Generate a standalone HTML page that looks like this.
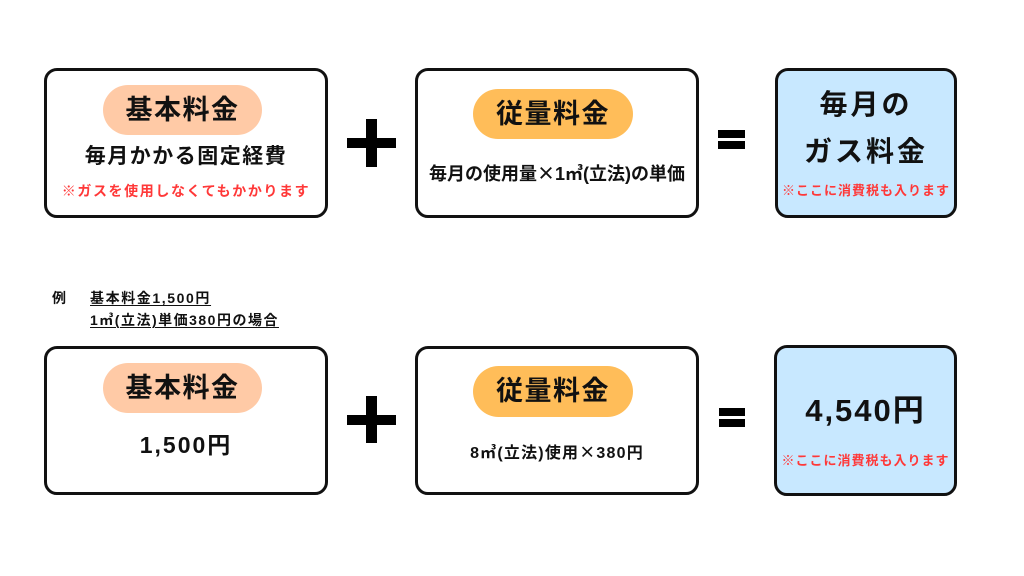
<!DOCTYPE html>
<html>
<head>
<meta charset="utf-8">
<style>
  html,body{margin:0;padding:0;}
  body{width:1024px;height:576px;background:#fff;position:relative;overflow:hidden;
    font-family:"Liberation Sans","Noto Sans CJK JP",sans-serif;font-weight:bold;color:#111;}
  .box{position:absolute;box-sizing:border-box;border:3px solid #111;border-radius:13px;background:#fff;}
  .blue{background:#C8E8FF;}
  .pill{position:absolute;border-radius:26px;text-align:center;color:#111;}
  .peach{background:#FFCAA6;}
  .orange{background:#FFBD59;}
  .t{position:absolute;text-align:center;white-space:nowrap;}
  .red{color:#FF3838;}
  .bar{position:absolute;background:#000;}
  .x{font-family:"Noto Sans CJK JP",sans-serif;}
</style>
</head>
<body>

<!-- Row 1 -->
<div class="box" style="left:44px;top:68px;width:284px;height:150px;"></div>
<div class="pill peach" style="left:103px;top:85px;width:159px;height:50px;line-height:50px;font-size:27px;letter-spacing:1.5px;">基本料金</div>
<div class="t" style="left:44px;width:284px;top:142px;height:30px;line-height:30px;font-size:21px;letter-spacing:1.5px;">毎月かかる固定経費</div>
<div class="t red" style="left:44px;width:284px;top:181px;height:20px;line-height:20px;font-size:14px;letter-spacing:1.6px;">※ガスを使用しなくてもかかります</div>

<div class="bar" style="left:347px;top:138px;width:49px;height:10px;"></div>
<div class="bar" style="left:366px;top:119px;width:11px;height:48px;"></div>

<div class="box" style="left:415px;top:68px;width:284px;height:150px;"></div>
<div class="pill orange" style="left:473px;top:89px;width:160px;height:50px;line-height:50px;font-size:27px;letter-spacing:1.5px;">従量料金</div>
<div class="t" style="left:415px;width:284px;top:160px;height:26px;line-height:26px;font-size:18px;letter-spacing:0px;">毎月の使用量<span class="x">×</span>1㎥(立法)の単価</div>

<div class="bar" style="left:718px;top:130px;width:27px;height:8px;"></div>
<div class="bar" style="left:718px;top:141px;width:27px;height:8px;"></div>

<div class="box blue" style="left:775px;top:68px;width:182px;height:150px;"></div>
<div class="t" style="left:775px;width:182px;top:87px;height:36px;line-height:36px;font-size:28px;letter-spacing:3px;">毎月の</div>
<div class="t" style="left:775px;width:182px;top:134px;height:36px;line-height:36px;font-size:28px;letter-spacing:3px;">ガス料金</div>
<div class="t red" style="left:775px;width:182px;top:181px;height:20px;line-height:20px;font-size:13px;letter-spacing:1px;">※ここに消費税も入ります</div>

<!-- Example label -->
<div class="t" style="left:52px;top:288px;height:20px;line-height:20px;font-size:14px;text-align:left;">例</div>
<div class="t" style="left:90px;top:288px;height:20px;line-height:20px;font-size:14px;letter-spacing:1.6px;text-align:left;text-decoration:underline;text-decoration-thickness:1px;text-underline-offset:2px;">基本料金1,500円</div>
<div class="t" style="left:90px;top:310px;height:20px;line-height:20px;font-size:14px;letter-spacing:1.5px;text-align:left;text-decoration:underline;text-decoration-thickness:1px;text-underline-offset:2px;">1㎥(立法)単価380円の場合</div>

<!-- Row 2 -->
<div class="box" style="left:44px;top:346px;width:284px;height:149px;"></div>
<div class="pill peach" style="left:103px;top:363px;width:159px;height:50px;line-height:50px;font-size:27px;letter-spacing:1.5px;">基本料金</div>
<div class="t" style="left:44px;width:284px;top:429px;height:32px;line-height:32px;font-size:23px;letter-spacing:2px;">1,500円</div>

<div class="bar" style="left:347px;top:415px;width:49px;height:10px;"></div>
<div class="bar" style="left:366px;top:396px;width:11px;height:47px;"></div>

<div class="box" style="left:415px;top:346px;width:284px;height:149px;"></div>
<div class="pill orange" style="left:473px;top:366px;width:160px;height:51px;line-height:51px;font-size:27px;letter-spacing:1.5px;">従量料金</div>
<div class="t" style="left:415px;width:284px;top:439px;height:24px;line-height:24px;font-size:16px;letter-spacing:1.2px;">8㎥(立法)使用<span class="x">×</span>380円</div>

<div class="bar" style="left:719px;top:408px;width:26px;height:8px;"></div>
<div class="bar" style="left:719px;top:419px;width:26px;height:8px;"></div>

<div class="box blue" style="left:774px;top:345px;width:183px;height:151px;"></div>
<div class="t" style="left:774px;width:183px;top:391px;height:40px;line-height:40px;font-size:31px;letter-spacing:2px;">4,540円</div>
<div class="t red" style="left:774px;width:183px;top:451px;height:20px;line-height:20px;font-size:13px;letter-spacing:1px;">※ここに消費税も入ります</div>

</body>
</html>
